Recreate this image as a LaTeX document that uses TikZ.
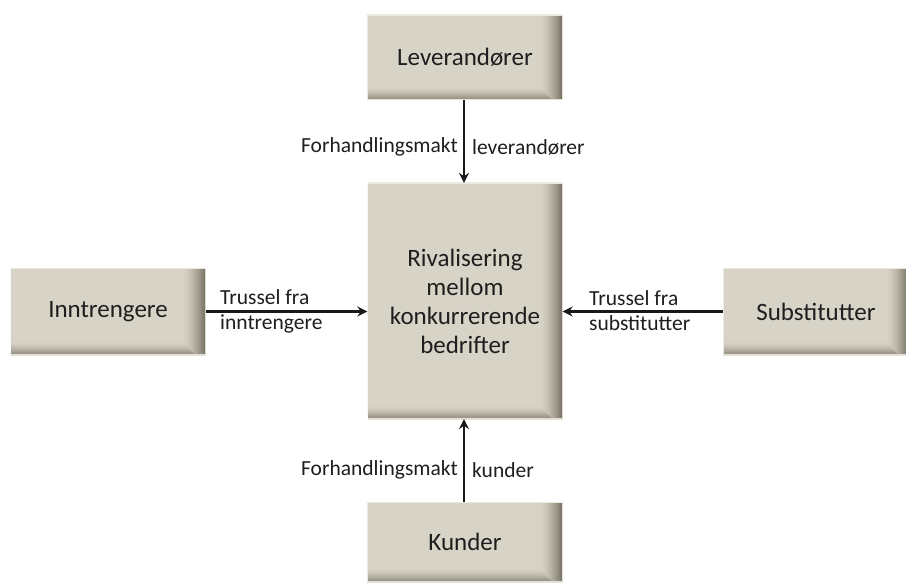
\documentclass[tikz,border=0pt]{standalone}
\usepackage{fontspec}
\setmainfont{Carlito}
\usetikzlibrary{arrows.meta}
\definecolor{boxfill}{RGB}{215,211,198}
\definecolor{boxdark}{RGB}{118,114,100}
\definecolor{txt}{RGB}{30,30,30}

\begin{document}
\begin{tikzpicture}[x=1pt, y=1pt, >={Stealth[length=10pt,width=10pt,inset=3.5pt]},
  force/.style={fill=boxfill, inner sep=0pt, text=txt, align=center,
    font=\fontsize{25}{29}\selectfont,
    path picture={
      % soft inner shadow, right and bottom
      \foreach \i [evaluate=\i as \p using (\i/22)^1.6*95] in {1,...,22}
        \fill[boxdark!\p!boxfill] ([xshift={(\i-24)*1pt}]path picture bounding box.north east)
          rectangle ([xshift={(\i-23)*1pt}]path picture bounding box.south east);
      \foreach \i [evaluate=\i as \p using (\i/12)^1.6*65] in {1,...,12}
        \fill[boxdark!\p!boxfill] ([yshift={(14-\i)*1pt}]path picture bounding box.south west)
          rectangle ([xshift={-(24-\i)*1pt},yshift={(13-\i)*1pt}]path picture bounding box.south east);
      \draw[white!50!boxfill, line width=1.5pt]
        (path picture bounding box.south west) -- (path picture bounding box.north west) -- (path picture bounding box.north east);
      \draw[white!30!boxfill, line width=2pt]
        (path picture bounding box.south west) -- (path picture bounding box.south east) -- (path picture bounding box.north east);
    }},
  pil/.style={->, line width=2.2pt, black!90},
  lbl/.style={inner sep=0pt, text=txt, font=\fontsize{21.5}{25}\selectfont}]
  \useasboundingbox (0,0) rectangle (906,-583);

  % the five forces
  \node[force, minimum width=195pt, minimum height=236pt] (rival) at (465,-301)
    {Rivalisering\\mellom\\konkurrerende\\bedrifter};
  \node[force, minimum width=196pt, minimum height=85pt] (lev) at (465,-57.5) {Leverandører};
  \node[force, minimum width=196pt, minimum height=80pt] (kunder) at (465,-542) {Kunder};
  \node[force, minimum width=195pt, minimum height=87pt] (inn) at (108,-311.5) {Inntrengere};
  \node[force, minimum width=186pt, minimum height=87pt] (sub) at (816,-311.5) {Substitutter};

  % arrows into the centre
  \draw[pil] ([xshift=-1pt]lev.south) -- ([xshift=-1pt]lev.south |- rival.north);
  \draw[pil] ([xshift=-1pt]kunder.north) -- ([xshift=-1pt]kunder.north |- rival.south);
  \draw[pil] (inn.east) -- (inn.east -| rival.west);
  \draw[pil] (sub.west) -- (sub.west -| rival.east);

  % labels
  \node[lbl, anchor=east] (levl) at (458,-147) {Forhandlingsmakt};
  \node[lbl, anchor=west] (levr) at (472,-147) {leverandører};
  \node[lbl, anchor=east] (kunl) at (458,-470) {Forhandlingsmakt};
  \node[lbl, anchor=west] (kunr) at (472,-470) {kunder};
  \node[lbl, anchor=west, align=left] (innl) at (220,-311) {Trussel fra\\inntrengere};
  \node[lbl, anchor=west, align=left] (subl) at (589,-311) {Trussel fra\\substitutter};
\end{tikzpicture}
\end{document}
